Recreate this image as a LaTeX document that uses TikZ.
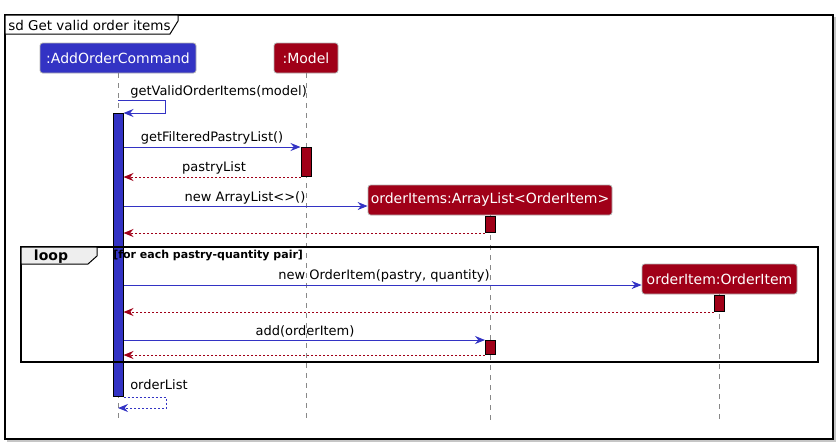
\documentclass[tikz,border=0pt]{standalone}
\usepackage{fontspec}
\setmainfont{DejaVu Sans}
\usetikzlibrary{arrows.meta}
\definecolor{partblue}{HTML}{3333C4}
\definecolor{partred}{HTML}{A00018}
\definecolor{lifegray}{HTML}{888888}
\definecolor{tabgray}{HTML}{EEEEEE}
\begin{document}
\begin{tikzpicture}[x=0.75pt,y=-0.75pt,
  participant/.style={draw=gray!60, line width=0.6pt, rounded corners=2pt, inner sep=0pt,
    minimum height=22.5pt, text=white, font=\fontsize{10.5}{12}\selectfont},
  actbar/.style={draw=black, line width=0.75pt, inner sep=0pt, minimum width=7.5pt, anchor=north},
  lifeline/.style={draw=lifegray, line width=0.75pt, dash pattern=on 3.75pt off 3.75pt},
  msg/.style={draw=partblue, line width=0.75pt, -{Stealth[length=7.5pt,width=6pt,inset=2.5pt]}},
  ret/.style={line width=0.75pt, dash pattern=on 1.5pt off 1.5pt, -{Stealth[length=7.5pt,width=6pt,inset=2.5pt]}},
  msglabel/.style={inner sep=0pt, font=\fontsize{9.75}{11}\selectfont},
  framebox/.style={draw=black, line width=1.1pt},
]
\useasboundingbox (0,0) rectangle (838,444);

% outer sd frame
\draw[gray!45, line width=1.1pt] (7,441) -- (835,441) -- (835,17);
\draw[framebox] (5,15) rectangle (833,439);
\draw[black, line width=0.75pt, fill=white] (5,15) -- (178,15) -- (178,21) -- (170,34) -- (5,34) -- cycle;
\node[inner sep=0pt, anchor=base west, font=\fontsize{10.1}{12}\selectfont] (title) at (8,30) {sd Get valid order items};

% participants
\node[participant, fill=partblue, minimum width=117pt] (cmd) at (118,58) {:AddOrderCommand};
\node[participant, fill=partred, minimum width=48pt] (model) at (306,58) {:Model};
\coordinate (bottom) at (0,420);

% lifelines
\draw[lifeline] (cmd.south) -- (cmd.south |- bottom);
\draw[lifeline] (model.south) -- (model.south |- bottom);

% created participants
\node[participant, fill=partred, minimum width=183pt] (list) at (490,200) {orderItems:ArrayList<OrderItem>};
\node[participant, fill=partred, minimum width=116.25pt] (item) at (719.5,279) {orderItem:OrderItem};
\draw[lifeline] (list.south) -- (list.south |- bottom);
\draw[lifeline] ([xshift=-0.375pt]item.south) -- ([xshift=-0.375pt]item.south |- bottom);

% activation bars
\node[actbar, fill=partblue, minimum height=212.25pt] (act1) at (118,113) {};
\node[actbar, fill=partred, minimum height=21.75pt] (actM) at (306,147) {};
\node[actbar, fill=partred, minimum height=12pt] (actL1) at (490.5,216) {};
\node[actbar, fill=partred, minimum height=12pt] (actI) at (719.5,295) {};
\node[actbar, fill=partred, minimum height=10.5pt] (actL2) at (490.5,340) {};

% loop fragment
\draw[black, line width=1.1pt] (21,247) rectangle (818,362);
\draw[black, line width=0.75pt, fill=tabgray] (21,247) -- (97,247) -- (97,256) -- (88,264) -- (21,264) -- cycle;
\node[inner sep=0pt, anchor=base, font=\bfseries\fontsize{10.5}{12}\selectfont] (looplabel) at (51,260) {loop};
\node[inner sep=0pt, anchor=base west, font=\bfseries\fontsize{8.25}{10}\selectfont] (guard) at (113,258) {[for each pastry-quantity pair]};

% self call
\coordinate (selfcall) at (165,100);
\draw[msg] (cmd.south |- selfcall) -- (selfcall) |- (act1.north east);
\node[msglabel, anchor=base west] (l1) at (130,95) {getValidOrderItems(model)};

% getFilteredPastryList
\draw[msg] (act1.east |- actM.north) -- (actM.north west);
\node[msglabel, anchor=base] (l2) at (212,141) {getFilteredPastryList()};
\draw[ret, draw=partred] (actM.south west) -- (act1.east |- actM.south);
\node[msglabel, anchor=base] (l3) at (214,171) {pastryList};

% create list
\draw[msg] (act1.east |- 0,206) -- ([yshift=-4.5pt]list.west);
\node[msglabel, anchor=base] (l4) at (245,201) {new ArrayList<>()};
\draw[ret, draw=partred] (actL1.south west) -- (act1.east |- actL1.south);

% create item
\draw[msg] (act1.east |- 0,285) -- ([yshift=-4.5pt]item.west);
\node[msglabel, anchor=base] (l5) at (384,279) {new OrderItem(pastry, quantity)};
\draw[ret, draw=partred] (actI.south west) -- (act1.east |- actI.south);

% add item
\draw[msg] (act1.east |- actL2.north) -- (actL2.north west);
\node[msglabel, anchor=base] (l6) at (305,335) {add(orderItem)};
\draw[ret, draw=partred] (actL2.south west) -- (act1.east |- actL2.south);

% return orderList
\coordinate (selfret) at (166,408);
\draw[ret, draw=partblue] (act1.south east) -| (selfret) -- (cmd.south |- selfret);
\node[msglabel, anchor=base west] (l7) at (130,389) {orderList};
\end{tikzpicture}
\end{document}
